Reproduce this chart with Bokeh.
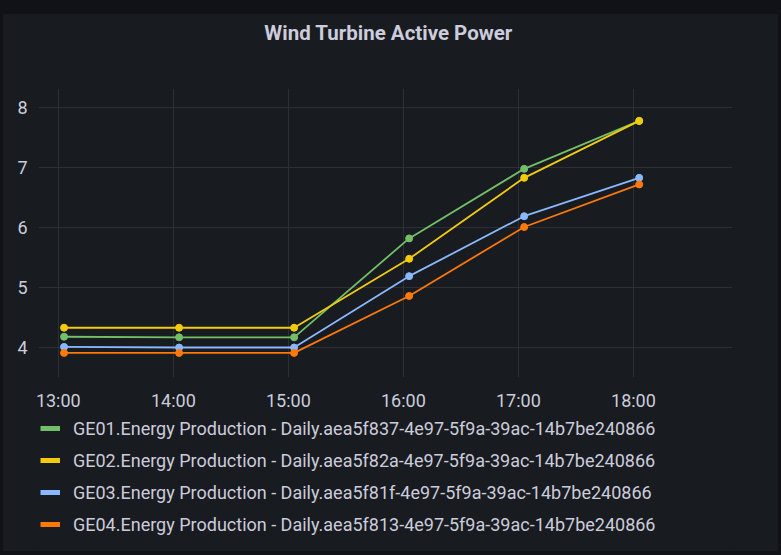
import pandas as pd
from bokeh.plotting import figure
from bokeh.layouts import column
from bokeh.models import (Legend, LegendItem, FixedTicker, DatetimeTickFormatter,
                          Range1d, ColumnDataSource, Label)
from bokeh.embed import file_html
from bokeh.resources import INLINE

# ---------------- data ----------------
day = "2021-06-01"
times = ["13:03", "14:03", "15:03", "16:03", "17:03", "18:03"]
ge01 = [4.18, 4.17, 4.17, 5.82, 6.98, 7.78]
ge02 = [4.33, 4.33, 4.33, 5.48, 6.83, 7.78]
ge03 = [4.01, 4.00, 4.00, 5.19, 6.19, 6.83]
ge04 = [3.91, 3.91, 3.91, 4.86, 6.01, 6.72]
series_names = [
    "GE01.Energy Production - Daily.aea5f837-4e97-5f9a-39ac-14b7be240866",
    "GE02.Energy Production - Daily.aea5f82a-4e97-5f9a-39ac-14b7be240866",
    "GE03.Energy Production - Daily.aea5f81f-4e97-5f9a-39ac-14b7be240866",
    "GE04.Energy Production - Daily.aea5f813-4e97-5f9a-39ac-14b7be240866",
]
series_values = [ge01, ge02, ge03, ge04]
colors = ["#73BF69", "#F2CC0C", "#8AB8FF", "#FF780A"]
x_ticks = ["13:00", "14:00", "15:00", "16:00", "17:00", "18:00"]
y_ticks = [4, 5, 6, 7, 8]
x_start, x_end = "12:49:40", "18:51:40"
y_start, y_end = 3.5, 8.32
title_text = "Wind Turbine Active Power"

# ---------------- figure ----------------
def ts(t):
    return pd.Timestamp(f"{day} {t}")

xs = [ts(t) for t in times]
PANEL = "#181b1f"
TEXT = "#ccccdc"
GRID = "#2c2f35"


def strip(h):
    f = figure(width=775, height=h, output_backend="svg", toolbar_location=None,
               x_axis_location=None, y_axis_location=None,
               x_range=Range1d(0, 775), y_range=Range1d(0, h), min_border=0)
    f.background_fill_color = PANEL
    f.border_fill_color = PANEL
    f.outline_line_color = None
    f.grid.visible = False
    return f


# title strip
top = strip(74)
top.add_layout(Label(x=391, y=56, text=title_text, text_align="center",
                     text_baseline="middle", text_color=TEXT, text_font="Roboto",
                     text_font_size="20.5px", text_font_style="bold"))

# main chart
p = figure(frame_width=694, frame_height=289, x_axis_type="datetime",
           output_backend="svg", toolbar_location=None,
           x_range=Range1d(ts(x_start), ts(x_end)),
           y_range=Range1d(y_start, y_end),
           min_border_left=35, min_border_right=46,
           min_border_top=0, min_border_bottom=40)
p.background_fill_color = PANEL
p.border_fill_color = PANEL
p.outline_line_color = None

for vals, c in zip(series_values, colors):
    src = ColumnDataSource(dict(x=xs, y=vals))
    p.line("x", "y", source=src, line_color=c, line_width=1.8)
    p.scatter("x", "y", source=src, size=7, fill_color=c, line_color=c)

p.xaxis.ticker = FixedTicker(ticks=[ts(t).value / 1e6 for t in x_ticks])
p.xaxis.formatter = DatetimeTickFormatter(hours="%H:%M", minutes="%H:%M", hourmin="%H:%M")
p.yaxis.ticker = FixedTicker(ticks=y_ticks)
for ax in (p.xaxis, p.yaxis):
    ax.axis_line_color = None
    ax.major_tick_line_color = None
    ax.minor_tick_line_color = None
    ax.major_label_text_color = TEXT
    ax.major_label_text_font = "Roboto"
    ax.major_label_text_font_size = "18px"
p.xaxis.major_label_standoff = 6
p.yaxis.major_label_standoff = 5
p.grid.grid_line_color = GRID
p.grid.grid_line_width = 1

# legend strip
lg = strip(134)
items = []
for name, c in zip(series_names, colors):
    r = lg.line(x=[float("nan")], y=[float("nan")], line_color=c, line_width=5)
    items.append(LegendItem(label=name, renderers=[r]))

legend = Legend(items=items, location=(2, 16), orientation="vertical",
                glyph_width=20, glyph_height=22, label_height=22, spacing=10,
                label_standoff=13, padding=2, margin=0,
                label_text_color=TEXT, label_text_font="Roboto",
                label_text_font_size="18px",
                background_fill_alpha=0, border_line_color=None)
lg.add_layout(legend, "center")

layout = column(top, p, lg, spacing=0, styles={"background-color": PANEL})

html = file_html(layout, INLINE)
html = html.replace("<body>", '<body style="background:#111217;margin:0;padding:14px 0 0 3px;">')
open("out.html", "w").write(html)
